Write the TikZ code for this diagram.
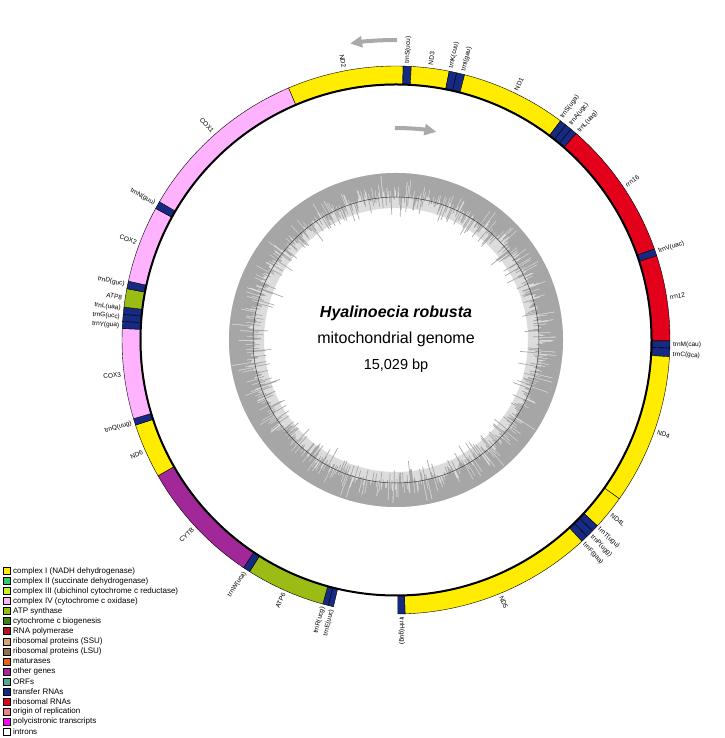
\documentclass[tikz,border=0pt]{standalone}
\usepackage{fontspec}
\setmainfont{Liberation Sans}
\usetikzlibrary{arrows.meta}

% gene classes
\definecolor{nadh}{RGB}{255,236,0}
\definecolor{sdh}{RGB}{51,204,102}
\definecolor{cytbc}{RGB}{204,238,34}
\definecolor{cox}{RGB}{255,179,255}
\definecolor{atp}{RGB}{155,188,20}
\definecolor{ccm}{RGB}{60,130,30}
\definecolor{rpo}{RGB}{180,20,35}
\definecolor{rps}{RGB}{213,166,110}
\definecolor{rpl}{RGB}{150,115,70}
\definecolor{mat}{RGB}{230,100,20}
\definecolor{other}{RGB}{162,39,152}
\definecolor{orf}{RGB}{80,170,150}
\definecolor{trna}{RGB}{22,42,130}
\definecolor{rrna}{RGB}{226,0,26}
\definecolor{ori}{RGB}{240,130,130}
\definecolor{poly}{RGB}{255,0,255}
\definecolor{gcdark}{RGB}{166,166,166}
\definecolor{gclight}{RGB}{220,220,220}
\definecolor{strandgray}{RGB}{170,170,170}

\tikzset{
  genebox/.style={draw=black, line width=0.4pt},
  maplbl/.style={font=\fontsize{6.5}{7}\selectfont, inner sep=0pt},
  legbox/.style={draw=black, line width=0.5pt, minimum size=7pt, inner sep=0pt},
  legtxt/.style={font=\fontsize{8}{9}\selectfont, inner sep=0pt, anchor=west},
  strandarrow/.style={draw=strandgray, line width=4pt, -{Triangle[length=12pt,width=11pt]}},
}

% colour, from, to
\newcommand{\genearc}[3]{%
  \filldraw[genebox, fill=#1] (#2:256) arc[start angle=#2, end angle=#3, radius=256pt]
    -- (#3:274) arc[start angle=#3, end angle=#2, radius=274pt] -- cycle;}

% name, angle, text
\newcommand{\maplabel}[3]{%
  \pgfmathtruncatemacro\lblside{(#2>90)||(#2<-90)}%
  \ifnum\lblside=1
    \node[maplbl, anchor=east, rotate=#2+180] (#1) at (#2:277) {#3};%
  \else
    \node[maplbl, anchor=west, rotate=#2] (#1) at (#2:277) {#3};%
  \fi}

\begin{document}
\begin{tikzpicture}[x=1pt,y=1pt]
  \fill[white] (0,0) rectangle (724,738);
  \useasboundingbox (0,0) rectangle (724,738);

  \begin{scope}[shift={(396,398)}]
    % GC content ring
    \pgfmathsetseed{7}
    \fill[gclight, even odd rule] (0,0) circle[radius=167pt] (0,0) circle[radius=132pt];
    \fill[gcdark, even odd rule] (0,0) circle[radius=167pt]
      (0:143) foreach \i [evaluate=\i as \rr using {143+24*rand*abs(rand)}] in {0,...,1199}
        { -- (\i*0.3:\rr) -- (\i*0.3+0.3:\rr) } -- cycle;
    \draw[black!75, line width=0.5pt] (0,0) circle[radius=143pt];

    % genes
    \foreach \c/\a/\b in {nadh/113.1/88.5, trna/88.5/86.8, nadh/86.8/78.8,
        trna/78.8/77.2, trna/77.2/75.5, nadh/75.5/53.1,
        trna/53.1/51.7, trna/51.7/50.3, trna/50.3/48.9,
        rrna/48.9/19.4, trna/19.4/17.9, rrna/17.9/-0.2,
        trna/-0.2/-1.7, trna/-1.7/-3.5, nadh/-3.5/-35.4, nadh/-35.4/-42.7,
        trna/-42.7/-44.2, trna/-44.2/-45.8, trna/-45.8/-47.3,
        nadh/-47.3/-88.1, trna/-88.1/-89.6,
        trna/-103.2/-104.35, trna/-104.35/-105.5, atp/-105.5/-122.3,
        trna/-122.3/-123.8, other/-123.8/-150.3, nadh/-150.3/-161.9,
        trna/-161.9/-163.3, cox/-163.3/-182.4,
        trna/177.6/176.1, trna/176.1/174.6, trna/174.6/173.1,
        atp/173.1/169.2, trna/169.2/167.6, cox/167.6/151.3,
        trna/151.3/149.7, cox/149.7/113.1}
      {\genearc{\c}{\a}{\b}}
    \draw[black, line width=2pt] (0,0) circle[radius=255.5pt];

    % gene names
    \foreach \n/\a/\t in {lND2/100.8/ND2, ltrnSa/87.65/trnS(ucu), lND3/82.8/ND3,
        ltrnK/78.5/trnK(cuu), ltrnI/75.9/trnI(gau), lND1/64.3/ND1,
        ltrnSb/53.3/trnS(uga), ltrnA/51/trnA(ugc), ltrnLa/48.7/trnL(uag),
        lrrnL/33.9/rrn16, ltrnV/18.65/trnV(uac), lrrnS/8.85/rrn12,
        ltrnM/-0.9/trnM(cau), ltrnC/-3.0/trnC(gca), lND4/-19.45/ND4,
        lND4L/-39.05/ND4L, ltrnT/-42.9/trnT(ugu), ltrnP/-45.1/trnP(ugg),
        ltrnF/-47.3/trnF(gaa), lND5/-67.7/ND5, ltrnH/-88.85/trnH(gug),
        ltrnE/-103.4/trnE(uuc), ltrnR/-105.3/trnR(ucg), lATPsix/-113.9/ATP6,
        ltrnW/-123.05/trnW(uca), lCYTB/-137.05/CYTB, lND6/-156.1/ND6,
        ltrnQ/-162.6/trnQ(uug), lCOX3/-172.85/COX3, ltrnY/177.0/trnY(gua),
        ltrnG/175.2/trnG(ucc), ltrnLb/173.4/trnL(uaa), lATPeight/171.15/ATP8,
        ltrnD/168.4/trnD(guc), lCOX2/159.45/COX2, ltrnN/150.5/trnN(guu),
        lCOX1/131.4/COX1}
      {\maplabel{\n}{\a}{\t}}

    % strand direction
    \draw[strandarrow] (89.8:300) arc[start angle=89.8, end angle=98.8, radius=300pt];
    \draw[strandarrow] (90.3:212) arc[start angle=90.3, end angle=79, radius=212pt];

    % centre text
    \node[font=\fontsize{16}{19}\selectfont\bfseries\itshape] (title) at (0,27) {Hyalinoecia robusta};
    \node[font=\fontsize{16}{19}\selectfont] (subtitle) at (0,1) {mitochondrial genome};
    \node[font=\fontsize{14.5}{17}\selectfont] (gsize) at (0,-26) {15,029 bp};
  \end{scope}

  % legend
  \foreach \c/\t [count=\k] in {nadh/complex I (NADH dehydrogenase),
      sdh/complex II (succinate dehydrogenase),
      cytbc/complex III (ubichinol cytochrome c reductase),
      cox/complex IV (cytochrome c oxidase), atp/ATP synthase,
      ccm/cytochrome c biogenesis, rpo/RNA polymerase,
      rps/ribosomal proteins (SSU), rpl/ribosomal proteins (LSU),
      mat/maturases, other/other genes, orf/ORFs, trna/transfer RNAs,
      rrna/ribosomal RNAs, ori/origin of replication,
      poly/polycistronic transcripts, white/introns}
  {
    \node[legbox, fill=\c] (leg\k) at (6.5,{167-(\k-1)*10.04}) {};
    \node[legtxt] (legt\k) at (13,{167-(\k-1)*10.04}) {\t};
  }
\end{tikzpicture}
\end{document}
